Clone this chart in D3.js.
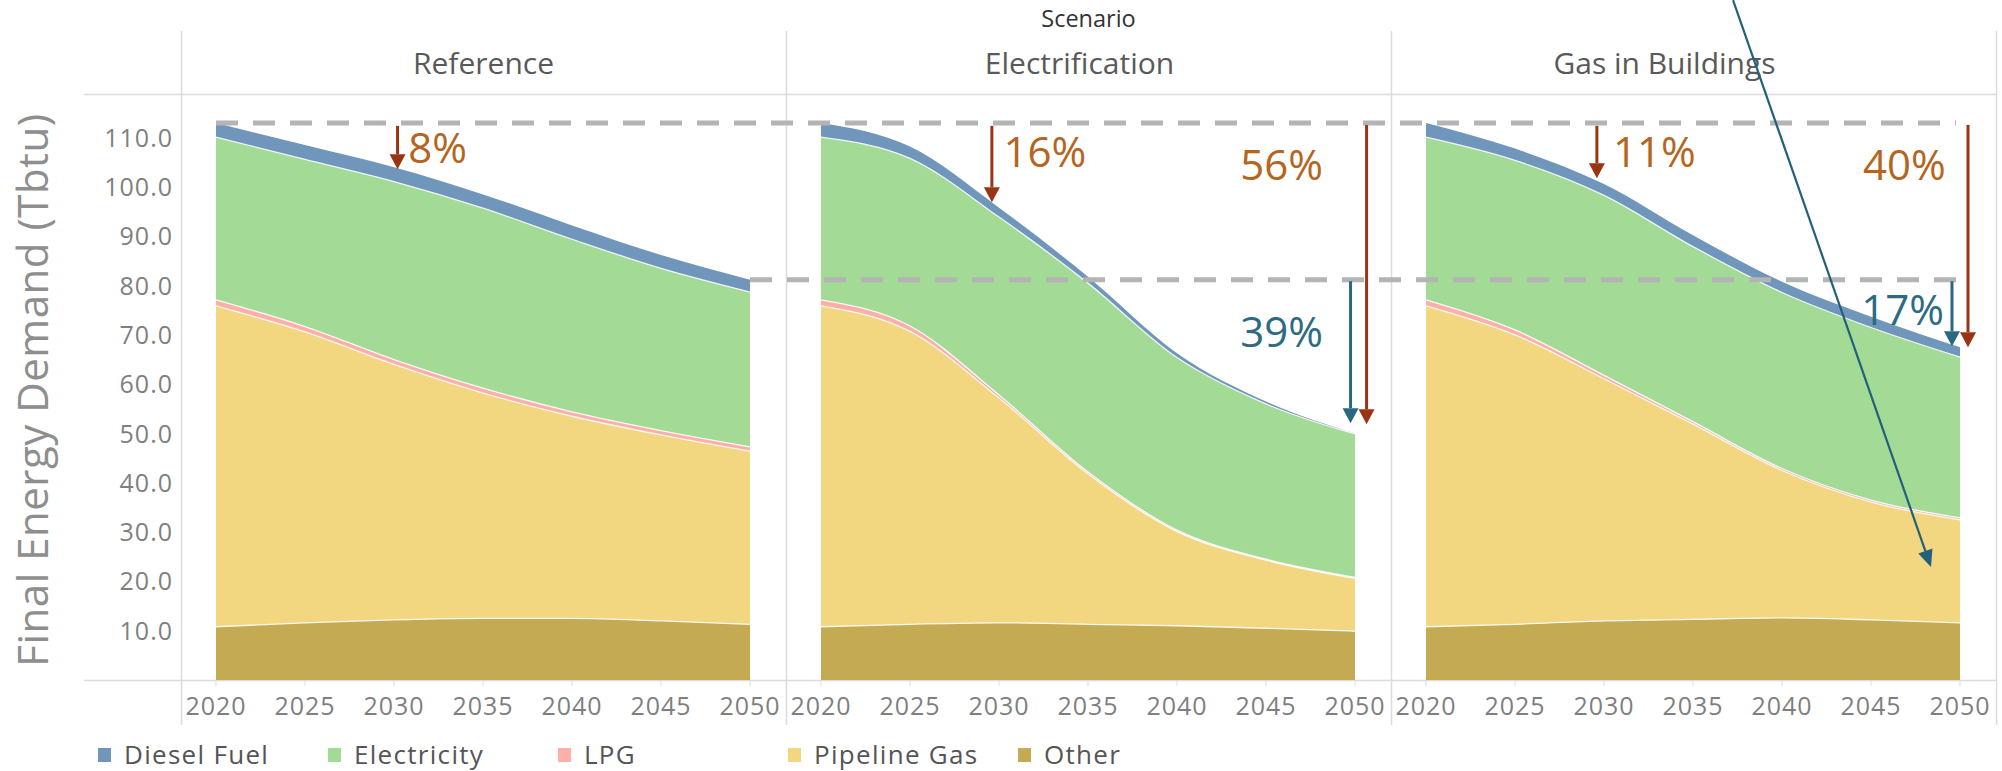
<!DOCTYPE html>
<html>
<head>
<meta charset="utf-8">
<script src="https://cdn.jsdelivr.net/npm/d3@7"></script>
<style>
  html, body { margin: 0; padding: 0; background: #fff; }
  svg { display: block; font-family: "Open Sans", "Noto Sans", sans-serif; }
</style>
</head>
<body>
<svg id="chart" width="2002" height="771"></svg>
<script>
// ---------------- data ----------------
const years = [2020, 2025, 2030, 2035, 2040, 2045, 2050];
const scenarios = ["Reference", "Electrification", "Gas in Buildings"];
const legendFuels = ["Diesel Fuel", "Electricity", "LPG", "Pipeline Gas", "Other"];
const stackOrder = ["Other", "Pipeline Gas", "LPG", "Electricity", "Diesel Fuel"];
const yTicks = [10, 20, 30, 40, 50, 60, 70, 80, 90, 100, 110];
const xTicks = [2020, 2025, 2030, 2035, 2040, 2045, 2050];

// Reference
const refOther    = [10.8, 11.6, 12.2, 12.5, 12.5, 12.0, 11.3];
const refPipeline = [65.1, 59.0, 51.8, 45.7, 41.0, 37.7, 35.1];
const refLPG      = [1.2, 1.1, 1.0, 1.0, 0.9, 0.9, 0.9];
const refElec     = [33.0, 33.9, 36.1, 36.5, 35.0, 32.9, 31.4];
const refDiesel   = [2.9, 2.9, 2.9, 2.8, 2.8, 2.7, 2.5];
// Electrification
const eleOther    = [10.8, 11.3, 11.6, 11.3, 11.0, 10.5, 9.9];
const elePipeline = [65.1, 59.4, 45.6, 30.5, 19.1, 13.8, 10.7];
const eleLPG      = [1.2, 1.1, 0.6, 0.4, 0.3, 0.2, 0.2];
const eleElec     = [33.0, 34.0, 36.1, 38.3, 35.0, 31.5, 29.1];
const eleDiesel   = [2.9, 2.4, 1.9, 1.3, 0.9, 0.5, 0.1];
// Gas in Buildings
const gasOther    = [10.8, 11.3, 12.0, 12.3, 12.6, 12.2, 11.6];
const gasPipeline = [65.1, 58.7, 49.1, 39.6, 29.9, 23.9, 20.9];
const gasLPG      = [1.2, 1.0, 0.7, 0.5, 0.4, 0.4, 0.4];
const gasElec     = [33.0, 34.4, 36.5, 35.5, 35.7, 35.0, 32.6];
const gasDiesel   = [2.9, 2.4, 2.3, 2.3, 2.2, 2.2, 2.0];

// annotation arrows (data coordinates: year within the panel, value)
const arrowPanel = [0, 1, 2, 1, 1, 2, 2];
const arrowYear  = [2030.2, 2029.6, 2029.6, 2050.65, 2049.75, 2050.45, 2049.55];
const arrowFrom  = [112.4, 112.4, 112.4, 112.6, 80.9, 112.6, 80.9];
const arrowTo    = [103.6, 96.9, 101.8, 51.9, 52.1, 67.5, 67.7];
const arrowKind  = ["red", "red", "red", "red", "blue", "red", "blue"];
const labelText  = ["8%", "16%", "11%", "56%", "39%", "40%", "17%"];
const labelYear  = [2030.8, 2030.25, 2030.5, 2048.2, 2048.2, 2049.2, 2049.1];
const labelValue = [104.9, 104.1, 104.1, 101.4, 67.5, 101.4, 72.0];
const labelAnchor= ["start", "start", "start", "end", "end", "end", "end"];
// stray pointer arrow in the last panel
const pointerYear  = [2037.25, 2048.37];
const pointerValue = [137.9, 22.9];

// ---------------- build tables ----------------
const seriesByScenario = {
  "Reference":        {"Other": refOther, "Pipeline Gas": refPipeline, "LPG": refLPG, "Electricity": refElec, "Diesel Fuel": refDiesel},
  "Electrification":  {"Other": eleOther, "Pipeline Gas": elePipeline, "LPG": eleLPG, "Electricity": eleElec, "Diesel Fuel": eleDiesel},
  "Gas in Buildings": {"Other": gasOther, "Pipeline Gas": gasPipeline, "LPG": gasLPG, "Electricity": gasElec, "Diesel Fuel": gasDiesel}
};
function table(sc) {
  const s = seriesByScenario[sc];
  return years.map((yr, i) => {
    const row = {year: yr};
    stackOrder.forEach(f => row[f] = s[f][i]);
    return row;
  });
}

// ---------------- layout ----------------
const svg = d3.select("#chart");
const color = d3.scaleOrdinal()
  .domain(["Diesel Fuel", "Electricity", "LPG", "Pipeline Gas", "Other"])
  .range(["#7096bb", "#a2da96", "#ffaeaa", "#f2d680", "#c4ab53"]);

const panel = d3.scaleBand().domain(scenarios).range([181, 1996]).paddingInner(0).paddingOuter(0);
const y = d3.scaleLinear().domain([0, 110]).range([680, 137.7]);
function xFor(sc) {
  const p0 = panel(sc);
  return d3.scaleLinear().domain([2020, 2050]).range([p0 + 35, p0 + 35 + 534]);
}
// header label centre shift per panel (Tableau header placement)
const headerShift = [0, -9, -29];

const gridColor = "#dcdcdc";

// frame lines
svg.append("line").attr("x1", 84).attr("x2", 1996).attr("y1", 94.5).attr("y2", 94.5)
  .attr("stroke", gridColor).attr("stroke-width", 1.5);
svg.append("line").attr("x1", 84).attr("x2", 1996).attr("y1", 680.5).attr("y2", 680.5)
  .attr("stroke", gridColor).attr("stroke-width", 1.5);
const dividers = scenarios.map(s => panel(s)).concat([panel.range()[1]]);
svg.selectAll("line.div").data(dividers).enter().append("line")
  .attr("class", "div")
  .attr("x1", d => d + 0.5).attr("x2", d => d + 0.5)
  .attr("y1", 31).attr("y2", 725)
  .attr("stroke", gridColor).attr("stroke-width", 1.5);

// title "Scenario"
svg.append("text").attr("x", (panel.range()[0] + panel.range()[1]) / 2).attr("y", 27)
  .attr("text-anchor", "middle").attr("font-size", 23.5).attr("fill", "#333")
  .text("Scenario");

// headers
svg.selectAll("text.hdr").data(scenarios).enter().append("text")
  .attr("class", "hdr")
  .attr("x", (d, i) => panel(d) + panel.bandwidth() / 2 + headerShift[i])
  .attr("y", 74)
  .attr("text-anchor", "middle").attr("font-size", 30).attr("fill", "#595959")
  .text(d => d);

// y axis labels
svg.selectAll("text.ytick").data(yTicks).enter().append("text")
  .attr("class", "ytick")
  .attr("x", 173).attr("y", d => y(d))
  .attr("dy", "0.36em")
  .attr("text-anchor", "end").attr("font-size", 25).attr("letter-spacing", "1px")
  .attr("fill", "#7f7f7f")
  .text(d => d3.format(".1f")(d));

// y title
svg.append("text")
  .attr("transform", "translate(48,390) rotate(-90)")
  .attr("text-anchor", "middle").attr("font-size", 42).attr("fill", "#8e8e8e")
  .attr("letter-spacing", "0.5px")
  .text("Final Energy Demand (Tbtu)");

// panels
const stack = d3.stack().keys(stackOrder);
scenarios.forEach(sc => {
  const x = xFor(sc);
  const layers = stack(table(sc));
  const g = svg.append("g");
  const area = d3.area().x(d => x(d.data.year)).y0(d => y(d[0])).y1(d => y(d[1]))
    .curve(d3.curveMonotoneX);
  g.selectAll("path.area").data(layers).enter().append("path")
    .attr("class", "area")
    .attr("d", area)
    .attr("fill", d => color(d.key));
  // white separators
  const line = d3.line().x(d => x(d.data.year)).y(d => y(d[1])).curve(d3.curveMonotoneX);
  g.selectAll("path.sep").data(layers.slice(0, 4)).enter().append("path")
    .attr("class", "sep")
    .attr("d", line)
    .attr("fill", "none").attr("stroke", "#fff").attr("stroke-width", 1.3).attr("stroke-opacity", 0.85);

  // ticks
  g.selectAll("line.xt").data(xTicks).enter().append("line")
    .attr("x1", d => x(d)).attr("x2", d => x(d)).attr("y1", 681).attr("y2", 686)
    .attr("stroke", gridColor).attr("stroke-width", 1);
  g.selectAll("text.xt").data(xTicks).enter().append("text")
    .attr("x", d => x(d)).attr("y", 715)
    .attr("text-anchor", "middle").attr("font-size", 25).attr("letter-spacing", "1px")
    .attr("fill", "#7f7f7f")
    .text(d => d);
});

// reference dashed lines (Reference 2020 and 2050 totals)
const refTable = table("Reference");
const sumRow = r => stackOrder.reduce((a, k) => a + r[k], 0);
const xRef = xFor("Reference");
const xGas = xFor("Gas in Buildings");
const dashEnd = xGas(2050) - 4;
[[xRef(2020), sumRow(refTable[0])], [xRef(2050), sumRow(refTable[refTable.length - 1])]].forEach(([x0, v]) => {
  svg.append("line")
    .attr("x1", x0).attr("x2", dashEnd)
    .attr("y1", y(v)).attr("y2", y(v))
    .attr("stroke", "#b4b4b4").attr("stroke-width", 5)
    .attr("stroke-dasharray", "22 15");
});

// arrows
const arrowColors = {red: "#993514", blue: "#2a6882"};
const labelColors = {red: "#b5651e", blue: "#2c6b83"};
function drawArrow(x1, y1, x2, y2, col, w, hl, hw) {
  const ang = Math.atan2(y2 - y1, x2 - x1);
  const bx = x2 - hl * Math.cos(ang), by = y2 - hl * Math.sin(ang);
  svg.append("line").attr("x1", x1).attr("y1", y1).attr("x2", bx).attr("y2", by)
    .attr("stroke", col).attr("stroke-width", w);
  const px = -Math.sin(ang) * hw / 2, py = Math.cos(ang) * hw / 2;
  svg.append("path")
    .attr("d", `M${x2},${y2}L${bx + px},${by + py}L${bx - px},${by - py}Z`)
    .attr("fill", col);
}
arrowYear.forEach((yr, i) => {
  const x = xFor(scenarios[arrowPanel[i]]);
  drawArrow(x(yr), y(arrowFrom[i]), x(yr), y(arrowTo[i]), arrowColors[arrowKind[i]], 3, 15, 16);
  svg.append("text")
    .attr("x", x(labelYear[i])).attr("y", y(labelValue[i]))
    .attr("text-anchor", labelAnchor[i])
    .attr("font-size", 42)
    .attr("fill", labelColors[arrowKind[i]])
    .text(labelText[i]);
});

// pointer arrow
drawArrow(xGas(pointerYear[0]), y(pointerValue[0]), xGas(pointerYear[1]), y(pointerValue[1]),
  "#22607c", 2.2, 17, 15);

// legend
const legend = d3.scalePoint().domain(legendFuels).range([98, 98 + 230 * 4]);
const lg = svg.selectAll("g.leg").data(legendFuels).enter().append("g")
  .attr("class", "leg")
  .attr("transform", d => `translate(${legend(d)},0)`);
lg.append("rect").attr("x", 0).attr("y", 748).attr("width", 13).attr("height", 14)
  .attr("fill", d => color(d));
lg.append("text").attr("x", 26).attr("y", 764)
  .attr("font-size", 26).attr("letter-spacing", "1.3px").attr("fill", "#555")
  .text(d => d);
</script>
</body>
</html>
